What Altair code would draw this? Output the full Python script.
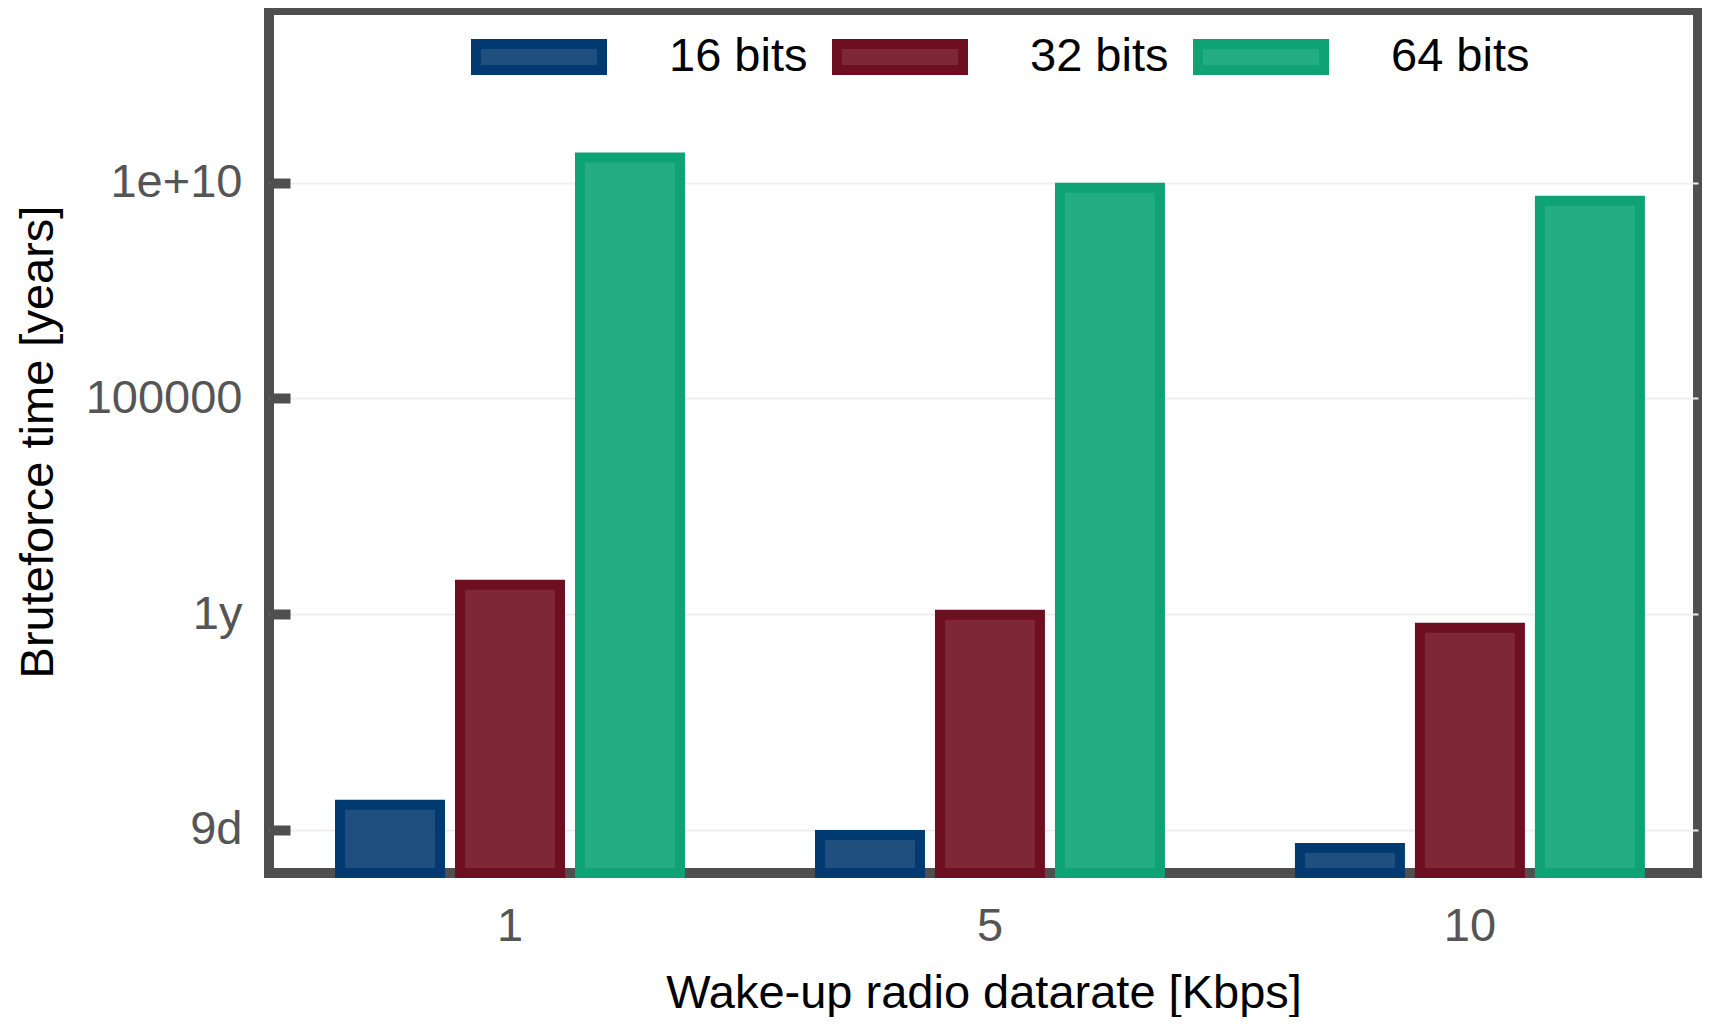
import math
import altair as alt
import pandas as pd

# ---- data ----
rates = ["1", "5", "10"]                      # Kbps
key_sizes = ["16 bits", "32 bits", "64 bits"]
years_16 = [3.8e-5, 7.6e-6, 3.8e-6]
years_32 = [4.8, 0.96, 0.48]
years_64 = [3.8e10, 7.6e9, 3.8e9]
y_domain = [1e-6, 1e14]
tick_values = [1e-5, 1.0, 1e5, 1e10]
tick_labels = ["9d", "1y", "100000", "1e+10"]
fill_colors = ["#1e4f7e", "#7d2737", "#24ad83"]
stroke_colors = ["#003a70", "#6d0f21", "#0fa373"]

rows = []
for i, r in enumerate(rates):
    for k, vals in zip(key_sizes, [years_16, years_32, years_64]):
        rows.append({"rate": r, "bits": k, "years": vals[i]})
df = pd.DataFrame(rows)

# label expression built from tick lists (thresholds at geometric midpoints)
expr = "'" + tick_labels[-1] + "'"
for j in range(len(tick_values) - 2, -1, -1):
    thr = math.sqrt(tick_values[j] * tick_values[j + 1])
    expr = f"datum.value < {thr:.6g} ? '{tick_labels[j]}' : ({expr})"

FS = 47
legend = alt.Legend(
    orient="none", legendX=202, legendY=-21, direction="horizontal", title=None,
    symbolType="M-1,-0.206H1V0.206H-1Z", symbolSize=15876, symbolStrokeWidth=10,
    symbolOpacity=1, labelFontSize=FS, labelColor="black", labelOffset=62,
    columnPadding=9, padding=0, labelLimit=500, labelFont="Liberation Sans",
)

chart = alt.Chart(df).mark_bar(strokeWidth=10, opacity=1).encode(
    x=alt.X("rate:N", sort=rates,
            scale=alt.Scale(paddingInner=0.2917, paddingOuter=0.1345, align=0.55),
            axis=alt.Axis(labelAngle=0, ticks=False, domain=False, grid=False,
                          labelPadding=67, labelBaseline="alphabetic",
                          labelFontSize=FS, labelColor="#555555",
                          title="Wake-up radio datarate [Kbps]", titleFontSize=FS,
                          titleColor="black", titleFontWeight="normal",
                          titleY=134, titleBaseline="alphabetic")),
    xOffset=alt.XOffset("bits:N", sort=key_sizes,
                        scale=alt.Scale(paddingInner=0.1667, paddingOuter=0)),
    y=alt.Y("years:Q",
            scale=alt.Scale(type="log", domain=y_domain, nice=False),
            axis=alt.Axis(values=tick_values, labelExpr=expr, offset=-21,
                          tickSize=21, tickWidth=10, tickColor="#4f4f4f",
                          domain=False, labelPadding=27, labelFontSize=FS,
                          labelColor="#555555", grid=True, gridColor="#efefef",
                          gridWidth=2, title="Bruteforce time [years]",
                          titleFontSize=FS, titleColor="black",
                          titleFontWeight="normal", titleX=-238,
                          titleBaseline="alphabetic", titleAngle=270)),
    y2=alt.datum(y_domain[0]),
    fill=alt.Fill("bits:N", scale=alt.Scale(domain=key_sizes, range=fill_colors),
                  legend=legend),
    stroke=alt.Stroke("bits:N", scale=alt.Scale(domain=key_sizes, range=stroke_colors),
                      legend=legend),
).properties(
    width=1429, height=863,
    autosize=alt.AutoSizeParams(type="none"),
    padding={"left": 261, "top": 2, "right": 4, "bottom": 144},
).configure(
    font="Liberation Sans",
).configure_view(
    stroke="#4f4f4f", strokeWidth=10,
)

chart.save("out.html", embed_options={"renderer": "svg", "actions": False})
